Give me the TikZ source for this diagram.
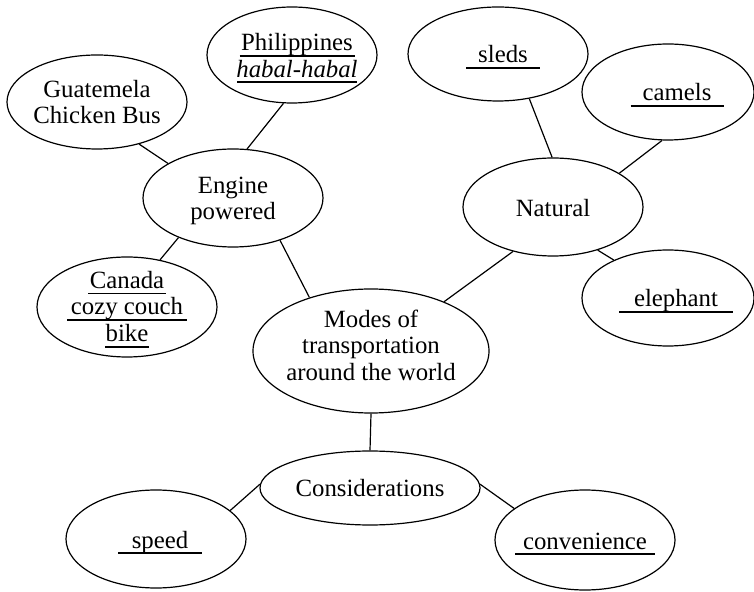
\documentclass[tikz,border=0pt]{standalone}
\usepackage{fontspec}
\setmainfont{Liberation Serif}
\usetikzlibrary{shapes.geometric}

\newcommand{\fillin}[2]{\makebox[#1]{#2}\llap{\rule[-3pt]{#1}{0.9pt}}}

\begin{document}
\begin{tikzpicture}[x=0.5pt, y=-0.5pt, line width=0.6pt]
	\tikzstyle{bubble} = [draw, ellipse, inner sep=-6pt, align=center, font=\fontsize{12.4}{13.3}\selectfont]
	\tikzstyle{blank} = [bubble, text height=12pt]

	\useasboundingbox (0,0) rectangle (754,592);

	% centre
	\node [bubble, minimum width=118pt, minimum height=62pt, text depth=6pt] (modes) at (371,351) {Modes of\\transportation\\around the world};

	% engine branch
	\node [bubble, minimum width=90pt, minimum height=49pt, text height=24.5pt] (engine) at (233,198) {Engine\\powered};
	\node [bubble, minimum width=90pt, minimum height=47pt] (guat) at (97,102) {Guatemela\\Chicken Bus};
	\node [bubble, minimum width=85pt, minimum height=48pt, text height=25.3pt] (phil) at (292,55) {%
	  \hspace*{5pt}\fillin{57.5pt}{Philippines}\\
	  \hspace*{5pt}\fillin{60pt}{\textit{habal-habal}}
	};
	\node [bubble, minimum width=90pt, minimum height=50pt, text height=37.6pt] (canada) at (127,307) {%
	  \fillin{39pt}{Canada}\\
	  \fillin{60pt}{cozy couch}\\
	  \fillin{22pt}{bike}
	};

	% natural branch
	\node [bubble, minimum width=90pt, minimum height=49pt, text height=10pt] (natural) at (553,207) {Natural};
	\node [blank, minimum width=90pt, minimum height=47pt] (sleds) at (498,54) {\hspace*{5pt}\fillin{37pt}{sleds}};
	\node [blank, minimum width=86pt, minimum height=48pt] (camels) at (668,92) {\hspace*{9pt}\fillin{46.5pt}{camels}};
	\node [blank, minimum width=86pt, minimum height=48pt] (elephant) at (668,298) {\hspace*{8pt}\fillin{57pt}{elephant}};

	% considerations branch
	\node [bubble, minimum width=110pt, minimum height=37pt] (cons) at (370,488) {Considerations};
	\node [blank, minimum width=90pt, minimum height=49pt] (speed) at (156,539) {\hspace*{4pt}\fillin{42pt}{speed}};
	\node [blank, minimum width=90pt, minimum height=50pt] (conv) at (585,540) {\fillin{70pt}{convenience}};

	\draw (guat.-45) -- (engine.152);
	\draw (engine.74) -- (phil.-100);
	\draw (engine.-144) -- (canada.55);
	\draw (engine.-42) -- (modes.139);
	\draw (modes.34) -- (natural.-132);
	\draw (natural.91) -- (sleds.-55);
	\draw (natural.27) -- (camels.-97);
	\draw (natural.-44) -- (elephant.145);
	\draw (modes.south) -- (cons.north);
	\draw (cons.178) -- (speed.21);
	\draw (cons.2) -- (conv.156);
\end{tikzpicture}
\end{document}
